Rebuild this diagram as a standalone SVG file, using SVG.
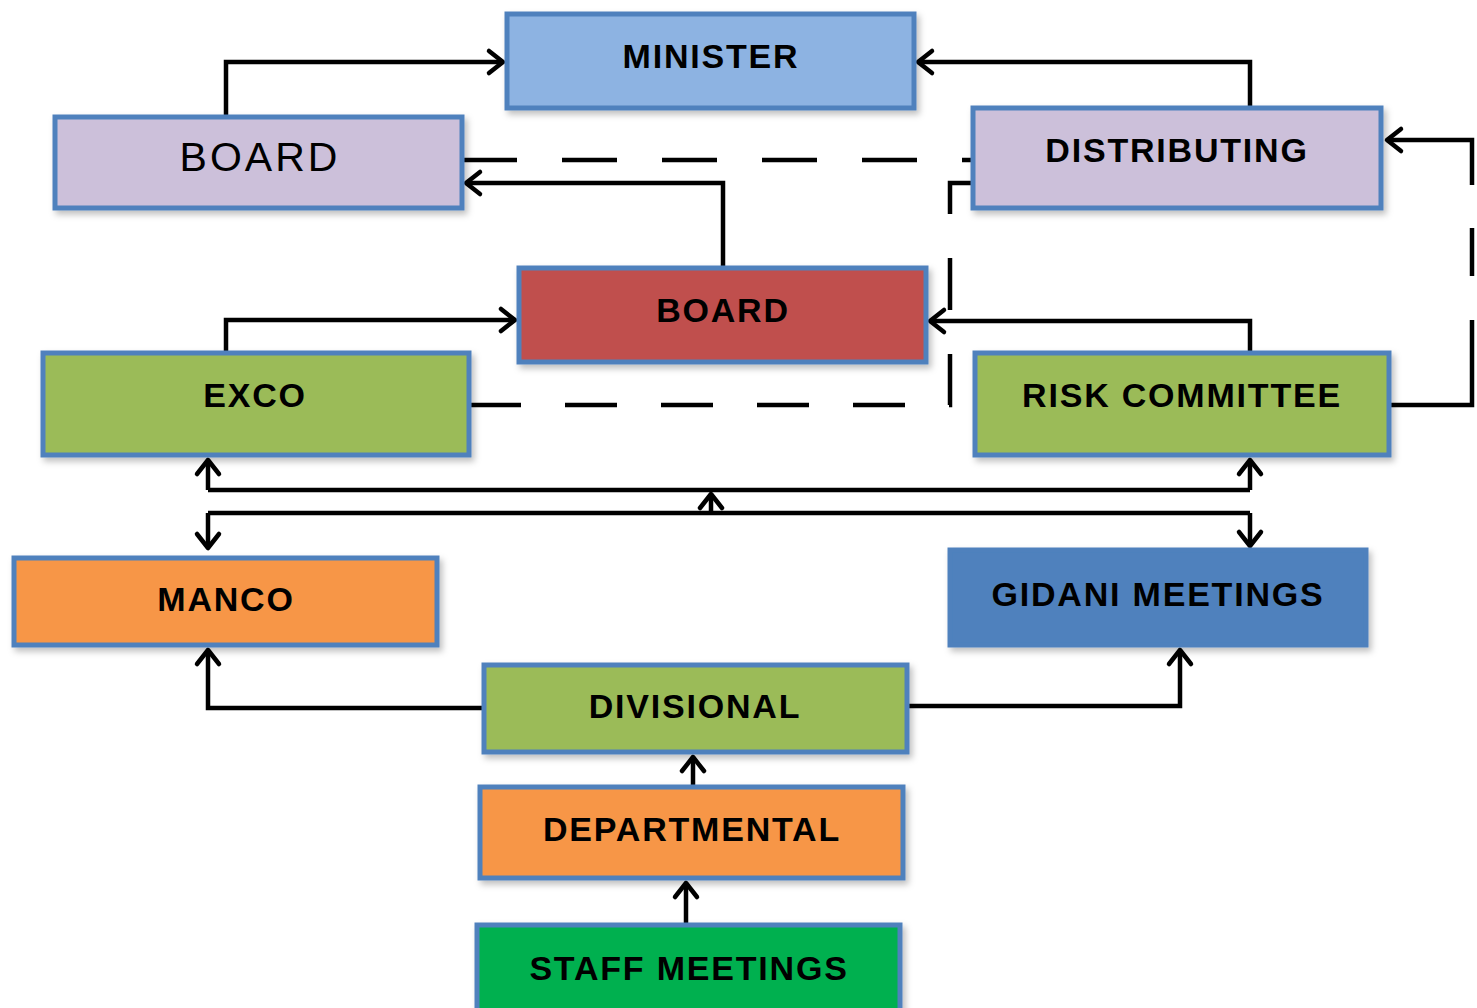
<svg xmlns="http://www.w3.org/2000/svg" width="1477" height="1008" viewBox="0 0 1477 1008">
<defs>
<filter id="sh" x="-5%" y="-10%" width="112%" height="130%">
<feDropShadow dx="3" dy="4" stdDeviation="3" flood-color="#000" flood-opacity="0.25"/>
</filter>
<marker id="ah" markerUnits="userSpaceOnUse" markerWidth="30" markerHeight="30" viewBox="-20 -15 24 30" refX="0" refY="0" orient="auto">
<path d="M -14,-11 L 0,0 L -14,11" fill="none" stroke="#000" stroke-width="4.5" stroke-linecap="round" stroke-linejoin="round"/>
</marker>
</defs>
<style>
.box{stroke:#4f81bd;stroke-width:5;filter:url(#sh)}
.lbl{font-family:"Liberation Sans",Arial,sans-serif;font-weight:bold;font-size:34px;fill:#000;text-anchor:middle;letter-spacing:1.8px}
.ln{fill:none;stroke:#000;stroke-width:4.5;stroke-linejoin:miter}
.dash{fill:none;stroke:#000;stroke-width:4.5;stroke-dasharray:55 45}
</style>
<rect width="1477" height="1008" fill="#fff"/>
<g id="connectors">
<path class="ln" d="M226,117 V62 H503" marker-end="url(#ah)"/>
<path class="ln" d="M1250,108 V62 H918" marker-end="url(#ah)"/>
<path class="dash" d="M462,160 H973"/>
<path class="ln" d="M723,268 V183 H466" marker-end="url(#ah)"/>
<path class="ln" d="M226,353 V320 H515" marker-end="url(#ah)"/>
<path class="ln" d="M1250,353 V321 H930" marker-end="url(#ah)"/>
<path class="dash" d="M469,405 H950 V183 H973" style="stroke-dasharray:52 44"/>
<path class="ln" d="M1389,405 H1472 V320"/>
<path class="ln" d="M1472,276 V228"/>
<path class="ln" d="M1472,185 V140 H1387" marker-end="url(#ah)"/>
<path class="ln" d="M208,490 H1250"/>
<path class="ln" d="M208,490 V460" marker-end="url(#ah)"/>
<path class="ln" d="M1250,490 V460" marker-end="url(#ah)"/>
<path class="ln" d="M208,513 H1250"/>
<path class="ln" d="M208,513 V548" marker-end="url(#ah)"/>
<path class="ln" d="M1250,513 V546" marker-end="url(#ah)"/>
<path class="ln" d="M711,513 V494" marker-end="url(#ah)"/>
<path class="ln" d="M484,708 H208 V650" marker-end="url(#ah)"/>
<path class="ln" d="M907,706 H1180 V650" marker-end="url(#ah)"/>
<path class="ln" d="M693,787 V757" marker-end="url(#ah)"/>
<path class="ln" d="M686,925 V883" marker-end="url(#ah)"/>
</g>
<g id="minister">
<rect class="box" x="507" y="14" width="407" height="94" fill="#8db3e2"/>
<text class="lbl" x="711" y="68">MINISTER</text>
</g>
<g id="board-top">
<rect class="box" x="55" y="117" width="407" height="91" fill="#ccc0da"/>
<text x="260" y="171" font-family="Liberation Sans,Arial,sans-serif" font-size="41" text-anchor="middle" letter-spacing="3">BOARD</text>
</g>
<g id="distributing">
<rect class="box" x="973" y="108" width="408" height="100" fill="#ccc0da"/>
<text class="lbl" x="1177" y="162">DISTRIBUTING</text>
</g>
<g id="board-main">
<rect class="box" x="519" y="268" width="407" height="94" fill="#c0504d"/>
<text class="lbl" x="723" y="322">BOARD</text>
</g>
<g id="exco">
<rect class="box" x="43" y="353" width="426" height="102" fill="#9bbb59"/>
<text class="lbl" x="255" y="407">EXCO</text>
</g>
<g id="risk-committee">
<rect class="box" x="975" y="353" width="414" height="102" fill="#9bbb59"/>
<text class="lbl" x="1182" y="407">RISK COMMITTEE</text>
</g>
<g id="manco">
<rect class="box" x="14" y="558" width="423" height="87" fill="#f79646"/>
<text class="lbl" x="226" y="611">MANCO</text>
</g>
<g id="gidani-meetings">
<rect class="box" x="950" y="550" width="416" height="95" fill="#4f81bd"/>
<text class="lbl" x="1158" y="606">GIDANI MEETINGS</text>
</g>
<g id="divisional">
<rect class="box" x="484" y="665" width="423" height="87" fill="#9bbb59"/>
<text class="lbl" x="695" y="718">DIVISIONAL</text>
</g>
<g id="departmental">
<rect class="box" x="480" y="787" width="423" height="91" fill="#f79646"/>
<text class="lbl" x="692" y="841">DEPARTMENTAL</text>
</g>
<g id="staff-meetings">
<rect class="box" x="477" y="925" width="423" height="90" fill="#00b050"/>
<text class="lbl" x="689" y="980">STAFF MEETINGS</text>
</g>
</svg>
